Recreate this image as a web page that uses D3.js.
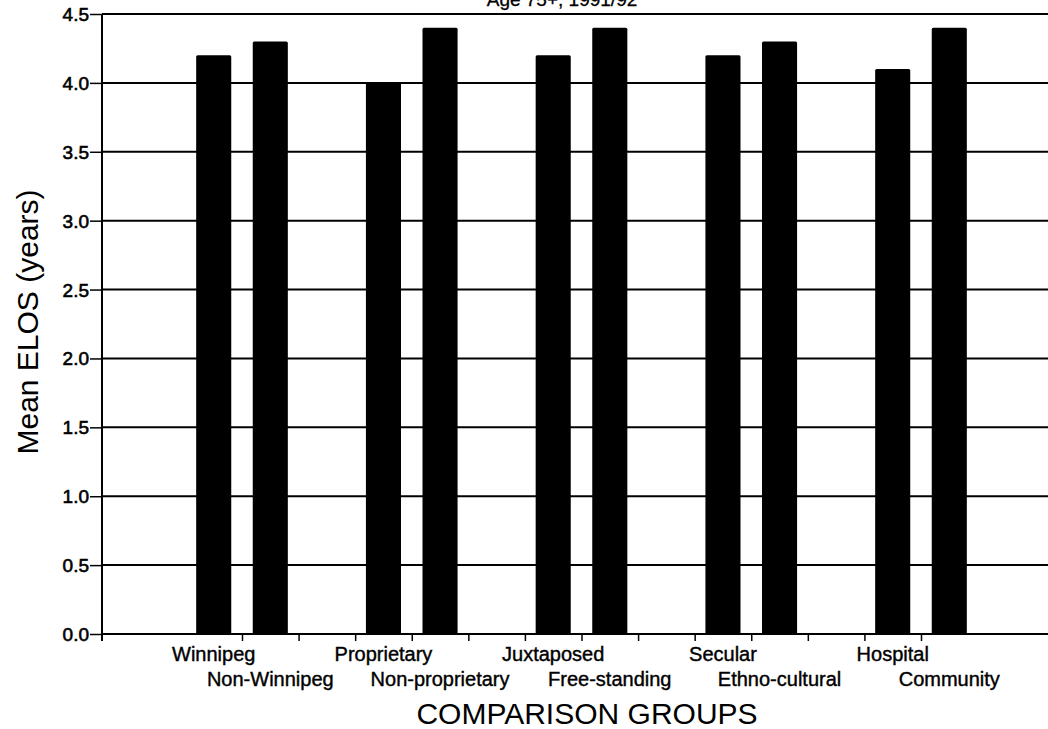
<!DOCTYPE html>
<html>
<head>
<meta charset="utf-8">
<script src="https://cdn.jsdelivr.net/npm/d3@7"></script>
<style>
  body { margin: 0; background: #fff; }
  svg { display: block; font-family: "Liberation Sans", Arial, Helvetica, sans-serif; }
</style>
</head>
<body>
<div id="main"></div>
<script>
// chart values
var categories = ["Winnipeg", "Non-Winnipeg", "Proprietary", "Non-proprietary",
  "Juxtaposed", "Free-standing", "Secular", "Ethno-cultural", "Hospital", "Community"];
var values = [4.2, 4.3, 4.0, 4.4, 4.2, 4.4, 4.2, 4.3, 4.1, 4.4];
var yTicks = [0, 0.5, 1.0, 1.5, 2.0, 2.5, 3.0, 3.5, 4.0, 4.5];
var xTicks = d3.range(0, 13);
var title = "Age 75+, 1991/92";
var xTitle = "COMPARISON GROUPS";
var yTitle = "Mean ELOS (years)";

var chart = {};
chart.width = 1048;
chart.height = 729;
chart.left = 102;
chart.right = 1048;
chart.top = 14;
chart.bottom = 634;

var svg = d3.select("#main").append("svg")
  .attr("width", chart.width)
  .attr("height", chart.height);

var y = d3.scaleLinear().domain([0, 4.5]).range([chart.bottom, chart.top]);
// 3 tick slots per comparison group, bars sit half a slot each side of the group tick
var x = d3.scaleLinear().domain([0, 12]).range([242, 921]);
var slotW = x(1) - x(0);
var barW = slotW * 0.62;

function slot(i) {
  return 3 * Math.floor(i / 2) + (i % 2 ? 0.5 : -0.5);
}

// title, mostly cut off by the top of the scan
svg.append("text")
  .attr("x", 562).attr("y", 6)
  .attr("text-anchor", "middle")
  .style("font-size", "19px")
  .attr("stroke", "#000").attr("stroke-width", 0.3)
  .text(title);

// horizontal grid lines
svg.append("g").selectAll("line")
  .data(yTicks)
  .enter().append("line")
  .attr("x1", chart.left).attr("x2", chart.right)
  .attr("y1", function(d) { return y(d); })
  .attr("y2", function(d) { return y(d); })
  .attr("stroke", "#000")
  .attr("stroke-width", 2);

// bars
svg.append("g").selectAll("rect")
  .data(values)
  .enter().append("rect")
  .attr("x", function(d, i) { return x(slot(i)) - barW / 2; })
  .attr("width", barW)
  .attr("y", function(d) { return y(d); })
  .attr("height", function(d) { return y(0) - y(d); })
  .attr("rx", 1.5)
  .attr("fill", "#000");

// y axis
var yAxis = svg.append("g")
  .attr("transform", "translate(" + chart.left + ",0)")
  .call(d3.axisLeft(y).tickValues(yTicks).tickFormat(d3.format(".1f")).tickSize(12).tickPadding(1));
yAxis.select(".domain").remove();
yAxis.append("line")
  .attr("x1", 0).attr("x2", 0)
  .attr("y1", chart.top).attr("y2", chart.bottom + 7)
  .attr("stroke", "#000").attr("stroke-width", 2);
yAxis.selectAll(".tick line").attr("stroke-width", 1.5);
yAxis.selectAll(".tick text")
  .attr("fill", "#000")
  .attr("dy", "0.34em")
  .style("font-size", "19px")
  .style("font-family", "'Liberation Sans', Arial, sans-serif")
  .attr("stroke", "#000").attr("stroke-width", 0.6);

// x axis ticks
var xAxis = svg.append("g")
  .attr("transform", "translate(0," + chart.bottom + ")")
  .call(d3.axisBottom(x).tickValues(xTicks).tickFormat("").tickSize(7));
xAxis.select(".domain").remove();
xAxis.selectAll(".tick line").attr("stroke-width", 1.5);

// category labels, alternating rows under their bars
svg.append("g").selectAll("text")
  .data(categories)
  .enter().append("text")
  .attr("x", function(d, i) { return x(slot(i)); })
  .attr("y", function(d, i) { return i % 2 ? 686 : 661; })
  .attr("text-anchor", "middle")
  .style("font-size", "20px")
  .attr("stroke", "#000").attr("stroke-width", 0.4)
  .text(function(d) { return d; });

// axis titles
svg.append("text")
  .attr("x", 587).attr("y", 724)
  .attr("text-anchor", "middle")
  .style("font-size", "30px")
  .text(xTitle);

svg.append("text")
  .attr("transform", "translate(38,322) rotate(-90)")
  .attr("text-anchor", "middle")
  .style("font-size", "30px")
  .text(yTitle);
</script>
</body>
</html>
